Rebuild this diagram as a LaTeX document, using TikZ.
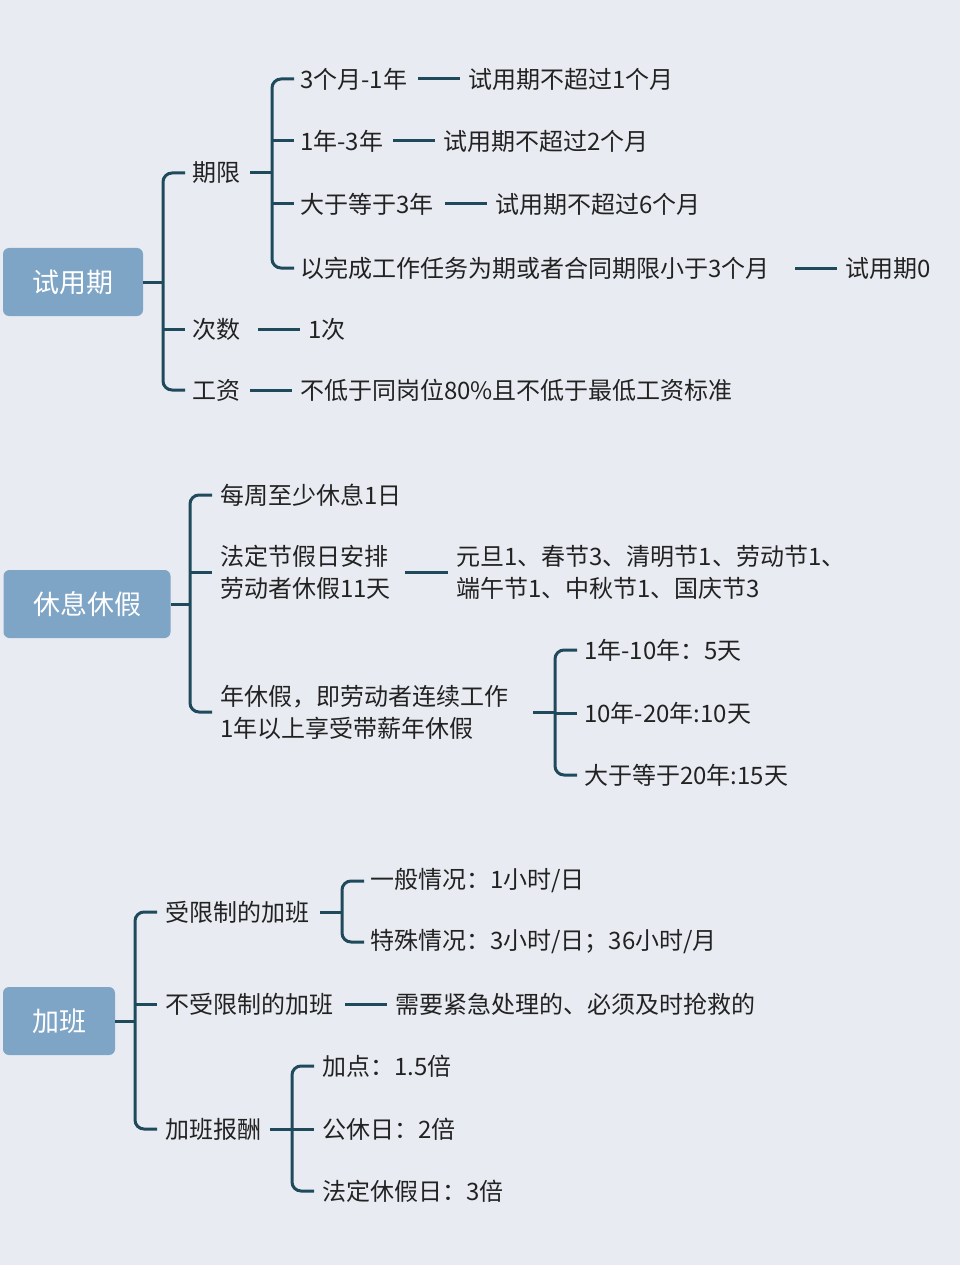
\documentclass[tikz,border=0pt]{standalone}
\usepackage{fontspec}
\setmainfont{Noto Sans CJK SC}
\definecolor{bg}{HTML}{E8ECF2}
\definecolor{ln}{HTML}{1F4A5C}
\definecolor{rootc}{HTML}{7FA5C6}
\definecolor{tx}{HTML}{222222}
\begin{document}
\begin{tikzpicture}[x=1pt,y=-1pt,
  t/.style={anchor=west,inner sep=0pt,text=tx,font=\fontsize{24}{32}\selectfont,align=left},
  root/.style={fill=rootc,rounded corners=6pt,text=white,font=\fontsize{27}{30}\selectfont,minimum height=68pt,inner sep=0pt},
  l/.style={draw=ln,line width=3pt,rounded corners=9pt}]
\fill[bg] (0,0) rectangle (960,1265);
\useasboundingbox (0,0) rectangle (960,1265);
% root 1
\node[root,minimum width=140pt] (r1) at (73,282) {试用期};
\draw[l] (r1.east) -- (163,282);
\draw[l] (185,173) -- (163,173) -- (163,390) -- (185,390);
\draw[l] (163,329) -- (185,329);
\node[t] (a1) at (192,173) {期限};
\node[t] (a2) at (192,329) {次数};
\node[t] (a3) at (192,390) {工资};
\draw[l] (250,173) -- (272,173);
\draw[l] (294,79) -- (272,79) -- (272,268) -- (294,268);
\draw[l] (272,141) -- (294,141);
\draw[l] (272,204) -- (294,204);
\node[t] (b1) at (300,79) {3个月-1年};
\node[t] (b2) at (300,141) {1年-3年};
\node[t] (b3) at (300,204) {大于等于3年};
\node[t] (b4) at (300,268) {以完成工作任务为期或者合同期限小于3个月};
\node[t] (c1) at (468,79) {试用期不超过1个月};
\node[t] (c2) at (443,141) {试用期不超过2个月};
\node[t] (c3) at (495,204) {试用期不超过6个月};
\node[t] (c4) at (845,268) {试用期0};
\draw[l] (418,79) -- (460,79);
\draw[l] (393,141) -- (435,141);
\draw[l] (445,204) -- (487,204);
\draw[l] (795,268) -- (837,268);
\node[t] (c5) at (308,329) {1次};
\node[t] (c6) at (300,390) {不低于同岗位80\%且不低于最低工资标准};
\draw[l] (258,329) -- (300,329);
\draw[l] (250,390) -- (292,390);
% root 2
\node[root,minimum width=167pt] (r2) at (87,604) {休息休假};
\draw[l] (r2.east) -- (190,604);
\draw[l] (212,495) -- (190,495) -- (190,712) -- (212,712);
\draw[l] (190,572) -- (212,572);
\node[t] (d1) at (220,495) {每周至少休息1日};
\node[t] (d2) at (220,572) {法定节假日安排\\劳动者休假11天};
\node[t] (d3) at (220,712) {年休假，即劳动者连续工作\\1年以上享受带薪年休假};
\draw[l] (405,572) -- (448,572);
\node[t] (e1) at (456,572) {元旦1、春节3、清明节1、劳动节1、\\端午节1、中秋节1、国庆节3};
\draw[l] (533,712) -- (555,712);
\draw[l] (577,650) -- (555,650) -- (555,775) -- (577,775);
\node[t] (f1) at (584,650) {1年-10年：5天};
\node[t] (f2) at (584,713) {10年-20年:10天};
\node[t] (f3) at (584,775) {大于等于20年:15天};
\draw[l] (555,713) -- (577,713);
% root 3
\node[root,minimum width=112pt] (r3) at (59,1021) {加班};
\draw[l] (r3.east) -- (135,1021);
\draw[l] (157,912) -- (135,912) -- (135,1129) -- (157,1129);
\draw[l] (135,1004) -- (157,1004);
\node[t] (g1) at (165,912) {受限制的加班};
\node[t] (g2) at (165,1004) {不受限制的加班};
\node[t] (g3) at (165,1129) {加班报酬};
\draw[l] (320,912) -- (342,912);
\draw[l] (364,881) -- (342,881) -- (342,942) -- (364,942);
\node[t] (h1) at (370,881) {一般情况：1小时/日};
\node[t] (h2) at (370,942) {特殊情况：3小时/日；36小时/月};
\draw[l] (345,1004) -- (387,1004);
\node[t] (h3) at (395,1004) {需要紧急处理的、必须及时抢救的};
\draw[l] (270,1129) -- (292,1129);
\draw[l] (314,1066) -- (292,1066) -- (292,1191) -- (314,1191);
\draw[l] (292,1129) -- (314,1129);
\node[t] (i1) at (322,1066) {加点：1.5倍};
\node[t] (i2) at (322,1129) {公休日：2倍};
\node[t] (i3) at (322,1191) {法定休假日：3倍};
\end{tikzpicture}
\end{document}
